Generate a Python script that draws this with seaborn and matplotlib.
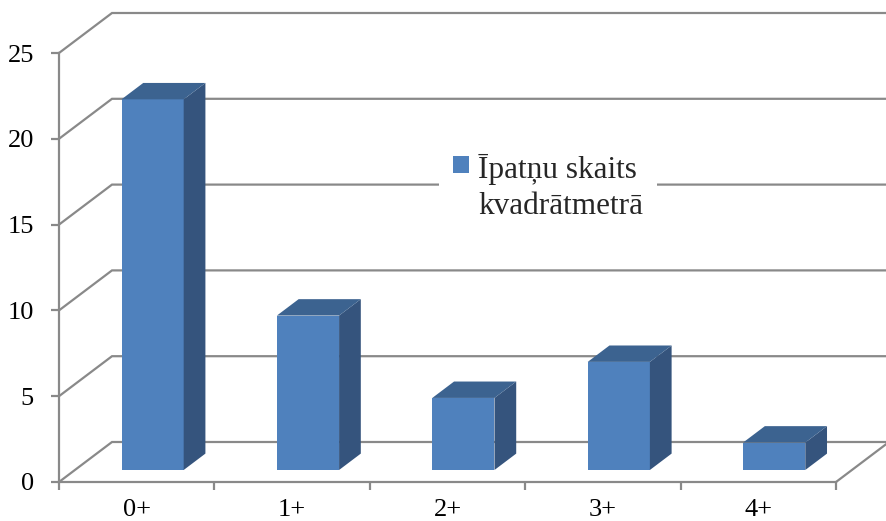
import numpy as np
import pandas as pd
import matplotlib
matplotlib.use("Agg")
import matplotlib.pyplot as plt
from matplotlib.patches import Rectangle, Polygon
from matplotlib.legend_handler import HandlerPatch
import seaborn as sns

# data
categories = ["0+", "1+", "2+", "3+", "4+"]
values = [21.6, 9.0, 4.2, 6.3, 1.6]
y_ticks = [0, 5, 10, 15, 20, 25]
series_label = "Īpatņu skaits\nkvadrātmetrā"

FRONT = "#4F81BD"
SIDE = "#35547D"
TOP = "#3C6390"
GRID = "#898989"

W, H, DPI = 886, 521, 100

sns.set_style("white")
plt.rcParams["font.family"] = ["Liberation Serif", "DejaVu Serif"]

fig = plt.figure(figsize=(W / DPI, H / DPI), dpi=DPI)
# front frame of the pseudo-3D box (pixels)
left, right, bottom, top = 59, 836, 482, 53
ax = fig.add_axes([left / W, 1 - bottom / H, (right - left) / W, (bottom - top) / H])

df = pd.DataFrame({"age": categories, "count": values})
sns.barplot(data=df, x="age", y="count", color=FRONT, saturation=1,
            width=0.4, errorbar=None, linewidth=0, zorder=3, ax=ax)

ax.set_xlim(-0.5, len(categories) - 0.5)
ax.set_ylim(0, 25)
ax.autoscale(False)

# depth of the box in data units (wall is 53px right, 40px up)
sx = (right - left) / len(categories)
sy = (bottom - top) / 25
dx, dy = 53 / sx, 40 / sy
xmin, xmax = -0.5, len(categories) - 0.5

# side wall + back wall gridlines
for v in y_ticks:
    ax.plot([xmin, xmin + dx, xmax + 2], [v, v + dy, v + dy], color=GRID,
            lw=1.6, clip_on=False, zorder=1, solid_joinstyle="miter")
# floor right edge
ax.plot([xmax, xmax + dx * 1.3], [0, dy * 1.3], color=GRID, lw=1.6,
        clip_on=False, zorder=1)

# turn flat bars into boxes
f0, depth = 0.3, 0.41
ddx, ddy = depth * dx, depth * dy
for p in list(ax.patches):
    x0 = p.get_x() + f0 * dx
    y0 = p.get_y() + f0 * dy
    p.set_x(x0)
    p.set_y(y0)
    w, h = p.get_width(), p.get_height()
    side = Polygon([(x0 + w, y0), (x0 + w + ddx, y0 + ddy),
                    (x0 + w + ddx, y0 + h + ddy), (x0 + w, y0 + h)],
                   closed=True, facecolor=SIDE, edgecolor="none", zorder=3, clip_on=False)
    lid = Polygon([(x0, y0 + h), (x0 + ddx, y0 + h + ddy),
                   (x0 + w + ddx, y0 + h + ddy), (x0 + w, y0 + h)],
                  closed=True, facecolor=TOP, edgecolor="none", zorder=3, clip_on=False)
    ax.add_patch(side)
    ax.add_patch(lid)
    p.set_clip_on(False)

# axes, ticks
for s in ["top", "right"]:
    ax.spines[s].set_visible(False)
for s in ["left", "bottom"]:
    ax.spines[s].set_color(GRID)
    ax.spines[s].set_linewidth(1.6)
    ax.spines[s].set_zorder(2)

ax.set_yticks(y_ticks)
ax.set_xticks(np.arange(xmin, xmax + 0.01, 1), minor=True)
ax.tick_params(axis="y", left=True, length=6, width=1.6, color=GRID,
               pad=12, labelsize=19, labelcolor="black")
ax.tick_params(axis="x", which="major", bottom=True, length=0, pad=12,
               labelsize=19, labelcolor="black")
ax.tick_params(axis="x", which="minor", bottom=True, length=6, width=1.6,
               color=GRID, direction="out")
ax.set_xlabel("")
ax.set_ylabel("")


def square_handle(legend, orig_handle, xdescent, ydescent, width, height, fontsize):
    s = 0.52 * fontsize
    y = -ydescent + (height - s) / 2 + 0.73 * fontsize
    return Rectangle((-xdescent, y), s, s)


proxy = Rectangle((0, 0), 1, 1, facecolor=FRONT, edgecolor="none")
leg = ax.legend([proxy], [series_label],
                handler_map={Rectangle: HandlerPatch(patch_func=square_handle)},
                loc="upper left", bbox_to_anchor=(439 / W, 1 - 140 / H),
                bbox_transform=fig.transFigure, fontsize=22.5, frameon=True,
                fancybox=False, framealpha=1, facecolor="white", edgecolor="none",
                borderpad=0.45, handlelength=0.6, handletextpad=0.2, borderaxespad=0)
leg.set_zorder(2)
for t in leg.get_texts():
    t.set_linespacing(1.3)

fig.savefig("out.png", dpi=DPI)
